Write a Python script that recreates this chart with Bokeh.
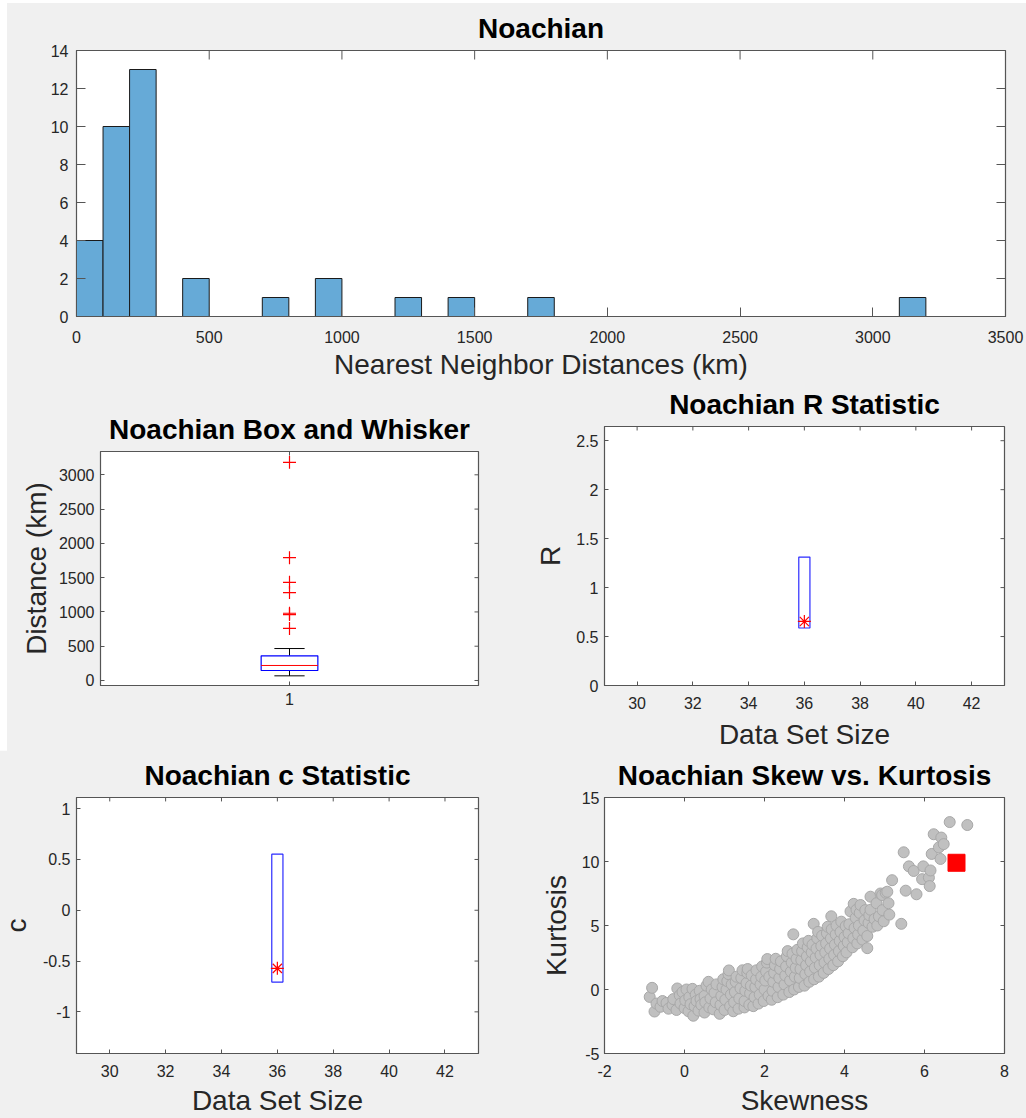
import numpy as np
from bokeh.plotting import figure
from bokeh.models import FixedTicker, Range1d, Spacer
from bokeh.embed import file_html
from bokeh.resources import INLINE

# ---------------- data ----------------
# nearest-neighbour distances (km), 36 Noachian features
distances = [68, 79, 88, 96,
             112, 124, 133, 141, 145, 147, 158, 169, 181, 192,
             203, 209, 214, 217, 221, 236, 244, 252, 261, 270, 278, 285, 290,
             430, 466,
             760, 962, 981, 1282, 1432, 1792, 3182]
bin_width = 100

# Monte-Carlo envelopes for the R and c statistics
set_size = 36
r_low, r_high, r_obs = 0.587, 1.312, 0.654
c_low, c_high, c_obs = -0.707, 0.552, -0.572

# simulated (skewness, kurtosis) pairs and the observed pair
trials = [
    (-0.87, -0.58), (-0.81, 0.13), (-0.75, -1.72), (-0.7, -1.1), (-0.6, -1.35), (-0.55, -0.9),
    (-0.45, -1.05), (-0.4, -1.5), (-0.3, -1.2), (-0.28, -0.75), (-0.2, -1.6), (-0.18, 0.08),
    (-0.12, -0.45), (-0.1, -1.1), (-0.05, -0.2), (0.0, -1.45), (0.02, -0.85), (0.05, 0.0),
    (0.1, -1.7), (0.12, -0.6), (0.15, -1.15), (0.2, 0.05), (0.22, -2.05), (0.25, -1.3),
    (0.28, -0.4), (0.3, -0.9), (0.35, -1.65), (0.38, -0.1), (0.4, -0.75), (0.42, -1.2),
    (0.5, -1.8), (0.5, -0.5), (0.52, -1.0), (0.55, 0.3), (0.6, 0.6), (0.62, -1.4),
    (0.65, -0.7), (0.68, 0.0), (0.72, -1.55), (0.75, -0.25), (0.78, -1.0), (0.8, 0.4),
    (0.88, -1.9), (0.9, -1.2), (0.92, -0.5), (0.95, 0.2), (0.97, 0.8), (1.0, -1.6),
    (1.02, -0.8), (1.05, 0.0), (1.07, 0.65), (1.1, 1.2), (1.11, 1.49), (1.14, -1.3),
    (1.16, -0.4), (1.18, 0.4), (1.22, -1.7), (1.24, -1.0), (1.26, -0.2), (1.28, 0.6),
    (1.3, 1.0), (1.35, -1.5), (1.37, -0.7), (1.4, 0.1), (1.42, 0.9), (1.45, 1.5),
    (1.5, -1.4), (1.5, -0.9), (1.52, -0.1), (1.55, 0.5), (1.57, 1.3), (1.58, 1.6),
    (1.62, -1.2), (1.64, -0.3), (1.66, 0.3), (1.68, 1.1), (1.72, -1.3), (1.75, -0.6),
    (1.77, 0.2), (1.79, 0.8), (1.8, 1.5), (1.85, -1.1), (1.88, -0.4), (1.9, 0.4),
    (1.92, 1.0), (1.94, 1.8), (1.98, -0.9), (2.0, 0.0), (2.02, 0.7), (2.04, 1.4),
    (2.06, 2.1), (2.07, 2.38), (2.1, -0.5), (2.12, 1.0), (2.18, -0.8), (2.2, -0.1),
    (2.22, 0.6), (2.24, 1.3), (2.26, 1.9), (2.28, 2.4), (2.33, -0.6), (2.35, 0.2),
    (2.37, 0.9), (2.39, 1.6), (2.41, 2.2), (2.47, -0.4), (2.5, 0.4), (2.52, 1.1),
    (2.54, 1.8), (2.56, 2.6), (2.58, 3.0), (2.62, -0.2), (2.64, 0.7), (2.66, 1.4),
    (2.68, 2.1), (2.7, 2.8), (2.72, 4.31), (2.74, 0.0), (2.76, 1.0), (2.78, 1.7),
    (2.8, 2.4), (2.82, 3.1), (2.86, 0.2), (2.88, 0.9), (2.9, 1.6), (2.92, 2.3),
    (2.94, 3.0), (2.96, 3.6), (3.0, 0.3), (3.02, 1.2), (3.04, 1.9), (3.06, 2.6),
    (3.08, 3.3), (3.1, 3.8), (3.12, 0.6), (3.14, 1.4), (3.16, 2.2), (3.18, 2.9),
    (3.2, 3.5), (3.23, 5.13), (3.24, 0.8), (3.26, 1.7), (3.28, 2.5), (3.3, 3.2),
    (3.32, 4.0), (3.34, 4.5), (3.36, 1.0), (3.38, 1.9), (3.4, 2.7), (3.42, 3.4),
    (3.44, 4.2), (3.48, 1.3), (3.5, 2.1), (3.52, 2.9), (3.54, 3.6), (3.56, 4.4),
    (3.58, 4.9), (3.6, 1.6), (3.62, 2.4), (3.64, 3.2), (3.66, 4.0), (3.67, 5.72),
    (3.68, 4.7), (3.72, 1.9), (3.74, 2.7), (3.76, 3.5), (3.78, 4.3), (3.8, 5.0),
    (3.84, 2.2), (3.86, 3.0), (3.88, 3.8), (3.9, 4.5), (3.92, 5.3), (3.96, 2.6),
    (3.98, 3.4), (4.0, 4.1), (4.03, 4.95), (4.05, 2.9), (4.08, 3.7), (4.1, 4.4),
    (4.12, 5.1), (4.15, 6.1), (4.2, 3.3), (4.22, 4.0), (4.23, 6.69), (4.25, 4.8),
    (4.28, 5.6), (4.3, 6.23), (4.32, 3.6), (4.34, 4.3), (4.36, 5.0), (4.38, 5.98),
    (4.4, 6.6), (4.45, 3.9), (4.47, 4.6), (4.5, 5.4), (4.52, 6.2), (4.57, 3.23),
    (4.57, 4.18), (4.6, 5.2), (4.62, 5.8), (4.65, 7.25), (4.65, 6.23), (4.7, 4.9),
    (4.75, 5.5), (4.8, 6.74), (4.82, 5.0), (4.86, 5.72), (4.9, 7.5), (4.94, 7.38),
    (4.95, 6.2), (4.98, 5.33), (5.03, 7.56), (5.07, 7.64), (5.1, 6.74), (5.12, 5.85),
    (5.19, 8.54), (5.42, 5.13), (5.48, 10.72), (5.53, 7.72), (5.61, 9.62), (5.73, 9.26),
    (5.8, 7.44), (5.94, 8.62), (5.97, 9.62), (6.11, 8.74), (6.13, 8.08), (6.15, 9.3),
    (6.18, 10.59), (6.23, 12.13), (6.36, 11.1), (6.4, 10.2), (6.42, 11.87), (6.48, 11.36),
    (6.63, 13.08), (7.07, 12.85),
]
obs_skew, obs_kurt = 6.8, 9.9

# tick positions and labels
hist_xticks = [0, 500, 1000, 1500, 2000, 2500, 3000, 3500]
hist_yticks = [0, 2, 4, 6, 8, 10, 12, 14]
box_yticks = [0, 500, 1000, 1500, 2000, 2500, 3000]
size_ticks = [30, 32, 34, 36, 38, 40, 42]
r_ticks = [0, 0.5, 1, 1.5, 2, 2.5]
r_labels = ["0", "0.5", "1", "1.5", "2", "2.5"]
c_ticks = [-1, -0.5, 0, 0.5, 1]
c_labels = ["-1", "-0.5", "0", "0.5", "1"]
skew_ticks = [-2, 0, 2, 4, 6, 8]
kurt_ticks = [-5, 0, 5, 10, 15]

# ---------------- styling helpers ----------------
FONT = "Liberation Sans"
AXC = "#555555"
TXT = "#262626"
BG = "#f0f0f0"
TICK_FS = "16px"
LABEL_FS = "28px"
TITLE_FS = "28px"


def make_fig(pos, fw, fh, borders, xr, yr, title):
    left, right, top, bottom = borders
    # the canvas size is given in full; the borders are wide enough for
    # their axes, so the frame fills exactly fw x fh
    p = figure(width=left + fw + right, height=top + fh + bottom,
               min_border_left=left, min_border_right=right,
               min_border_top=top, min_border_bottom=bottom,
               x_range=Range1d(*xr), y_range=Range1d(*yr),
               output_backend="svg", toolbar_location=None, tools="",
               title=title)
    p.styles = {"position": "absolute", "left": f"{pos[0]}px", "top": f"{pos[1]}px"}
    p.border_fill_color = BG
    p.background_fill_color = "white"
    p.outline_line_color = AXC
    p.outline_line_width = 1.2
    p.grid.visible = False
    p.title.align = "center"
    p.title.text_font = FONT
    p.title.text_font_size = TITLE_FS
    p.title.text_font_style = "bold"
    p.title.text_color = "black"
    p.title.standoff = 14
    return p


def style_axis(ax, ticks, labels, tick_len, label="", label_standoff=6, tick_standoff=8):
    ax.ticker = FixedTicker(ticks=ticks)
    ax.major_label_overrides = {t: s for t, s in zip(ticks, labels)}
    ax.major_tick_in = tick_len
    ax.major_tick_out = 0
    ax.major_tick_line_color = AXC
    ax.minor_tick_line_color = None
    ax.axis_line_color = AXC
    ax.major_label_text_font = FONT
    ax.major_label_text_font_size = TICK_FS
    ax.major_label_text_color = TXT
    ax.major_label_standoff = tick_standoff
    ax.axis_label = label
    ax.axis_label_text_font = FONT
    ax.axis_label_text_font_size = LABEL_FS
    ax.axis_label_text_font_style = "normal"
    ax.axis_label_text_color = TXT
    ax.axis_label_standoff = label_standoff


def mirror_ticks(p, xticks, yticks, tick_len, fw, fh):
    # inward ticks along the top and right edges of the box
    x0, x1 = p.x_range.start, p.x_range.end
    y0, y1 = p.y_range.start, p.y_range.end
    dy = tick_len * (y1 - y0) / fh
    dx = tick_len * (x1 - x0) / fw
    p.segment(x0=xticks, y0=[y1] * len(xticks), x1=xticks, y1=[y1 - dy] * len(xticks),
              line_color=AXC, line_width=1)
    p.segment(x0=[x1] * len(yticks), y0=yticks, x1=[x1 - dx] * len(yticks), y1=yticks,
              line_color=AXC, line_width=1)


def as_labels(ticks):
    return [str(t) for t in ticks]


# grey figure background behind all panels
backdrop = Spacer(width=1019, height=1115,
                  styles={"position": "absolute", "left": "7px", "top": "3px",
                          "background-color": BG})

# ---------------- histogram ----------------
edges = np.arange(0, max(distances) + bin_width, bin_width)
counts, edges = np.histogram(distances, bins=edges)

HW, HH = 929, 266
hist = make_fig((7, 3), HW, HH, (69, 21, 47, 70), (0, 3500), (0, 14), "Noachian")
hist.quad(left=edges[:-1], right=edges[1:], bottom=0, top=counts,
          fill_color="#66aad7", line_color="#1a1a1a", line_width=1)
style_axis(hist.xaxis[0], hist_xticks, as_labels(hist_xticks), 9,
           "Nearest Neighbor Distances (km)", 3, 14)
style_axis(hist.yaxis[0], hist_yticks, as_labels(hist_yticks), 9, "", 0, 8)
mirror_ticks(hist, hist_xticks, hist_yticks, 9, HW, HH)

# ---------------- box and whisker ----------------
d = np.sort(np.asarray(distances, dtype=float))


def prctile(v, pct):
    # percentile with midpoint positions (i - 0.5) / n
    n = len(v)
    pos = pct / 100.0 * n + 0.5
    lo = int(np.floor(pos))
    frac = pos - lo
    lo = min(max(lo, 1), n)
    hi = min(lo + 1, n)
    return v[lo - 1] + frac * (v[hi - 1] - v[lo - 1])


q1, med, q3 = prctile(d, 25), prctile(d, 50), prctile(d, 75)
iqr = q3 - q1
w_hi = d[d <= q3 + 1.5 * iqr].max()
w_lo = d[d >= q1 - 1.5 * iqr].min()
outliers = d[(d > q3 + 1.5 * iqr) | (d < q1 - 1.5 * iqr)]

BW, BH = 378, 234
box = make_fig((7, 385), BW, BH, (93, 23, 66, 66), (0.5, 1.5), (-73, 3340),
               "Noachian Box and Whisker")
xpos, half, cap = 1.0, 0.075, 0.04
box.segment(x0=[xpos, xpos], y0=[q3, q1], x1=[xpos, xpos], y1=[w_hi, w_lo],
            line_color="black", line_width=1)
box.segment(x0=[xpos - cap, xpos - cap], y0=[w_hi, w_lo],
            x1=[xpos + cap, xpos + cap], y1=[w_hi, w_lo],
            line_color="black", line_width=1)
box.quad(left=[xpos - half], right=[xpos + half], bottom=[q1], top=[q3],
         fill_color="white", line_color="blue", line_width=1.2)
box.segment(x0=[xpos - half], y0=[med], x1=[xpos + half], y1=[med],
            line_color="red", line_width=1)
box.scatter(np.full(len(outliers), xpos), outliers, marker="cross", size=13,
            line_color="red", line_width=1.2)
style_axis(box.xaxis[0], [1], ["1"], 4, "", 0, 7)
style_axis(box.yaxis[0], box_yticks, as_labels(box_yticks), 4,
           "Distance (km)", 4, 6)
mirror_ticks(box, [1], box_yticks, 4, BW, BH)

# ---------------- R statistic ----------------
SW, SH = 400, 260
rfig = make_fig((500, 379), SW, SH, (104, 22, 46, 72), (28.83, 43.18), (0, 2.645),
                "Noachian R Statistic")
rfig.quad(left=[set_size - 0.2], right=[set_size + 0.2], bottom=[r_low], top=[r_high],
          fill_color=None, line_color="#2b2bff", line_width=1.2)
rfig.scatter([set_size], [r_obs], marker="asterisk", size=13,
             line_color="red", line_width=1.2)
style_axis(rfig.xaxis[0], size_ticks, as_labels(size_ticks), 4,
           "Data Set Size", 7, 11)
style_axis(rfig.yaxis[0], r_ticks, r_labels, 4, "R", 7, 6)
mirror_ticks(rfig, size_ticks, r_ticks, 4, SW, SH)

# ---------------- c statistic ----------------
CW, CH = 402, 261
cfig = make_fig((-3, 750), CW, CH, (79, 23, 46, 61), (28.81, 43.2), (-1.41, 1.11),
                "Noachian c Statistic")
cfig.quad(left=[set_size - 0.2], right=[set_size + 0.2], bottom=[c_low], top=[c_high],
          fill_color=None, line_color="#2b2bff", line_width=1.2)
cfig.scatter([set_size], [c_obs], marker="asterisk", size=13,
             line_color="red", line_width=1.2)
style_axis(cfig.xaxis[0], size_ticks, as_labels(size_ticks), 4,
           "Data Set Size", 5, 11)
style_axis(cfig.yaxis[0], c_ticks, c_labels, 4, "c", 8, 6)
mirror_ticks(cfig, size_ticks, c_ticks, 4, CW, CH)

# ---------------- skewness vs kurtosis ----------------
skew = [s for s, k in trials]
kurt = [k for s, k in trials]
sk = make_fig((500, 750), SW, SH, (104, 22, 46, 62), (-2, 8), (-5, 15),
              "Noachian Skew vs. Kurtosis")
sk.scatter(skew, kurt, size=11, fill_color="#c0c0c0", line_color="#a8a8a8",
           line_width=1)
sk.scatter([obs_skew], [obs_kurt], marker="square", size=17,
           fill_color="red", line_color="red")
style_axis(sk.xaxis[0], skew_ticks, as_labels(skew_ticks), 4, "Skewness", 5, 11)
style_axis(sk.yaxis[0], kurt_ticks, as_labels(kurt_ticks), 4, "Kurtosis", 7, 5)
mirror_ticks(sk, skew_ticks, kurt_ticks, 4, SW, SH)

open("out.html", "w").write(file_html([backdrop, hist, box, rfig, cfig, sk], INLINE))
